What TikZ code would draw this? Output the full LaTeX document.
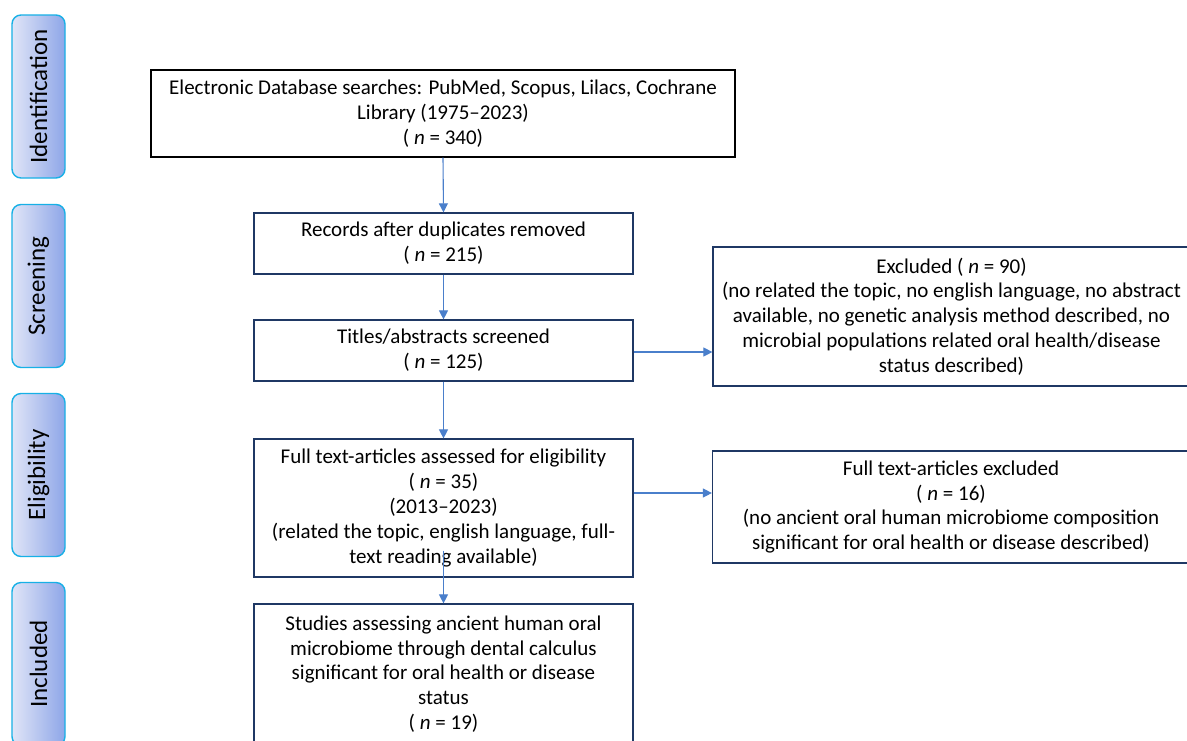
\documentclass[tikz,border=0pt]{standalone}
\usepackage{fontspec}
\setmainfont{Carlito}
\usetikzlibrary{arrows.meta}
\definecolor{navy}{HTML}{1F3864}
\definecolor{arr}{HTML}{4A7FCB}
\definecolor{phb}{HTML}{17B0E6}
\definecolor{phl}{HTML}{8EA6E8}
\definecolor{phr}{HTML}{E0E5F7}
\newcommand{\flowfont}{\fontsize{21}{24.8}\selectfont}
\begin{document}
\begin{tikzpicture}[x=1pt,y=-1pt,
  box/.style={draw=navy,line width=1.2pt,align=center,inner sep=0pt,font=\flowfont,fill=white},
  phase/.style={draw=phb,line width=1.4pt,rounded corners=9pt,
    left color=phr,right color=phl,minimum width=53pt,minimum height=163pt,
    inner sep=0pt},
  phasetext/.style={rotate=90,inner sep=0pt,font=\fontsize{25}{28}\selectfont},
  link/.style={draw=arr,line width=1.1pt,-{Triangle[length=9pt,width=9pt]}}]
\useasboundingbox (0,0) rectangle (1187,740);
\fill[white] (0,0) rectangle (1187,740);

% phase labels
\node[phase] (pid) at (38.5,96.5) {};
\node[phasetext] (tid) at (pid.center) {Identification};
\node[phase] (psc) at (38.5,286) {};
\node[phasetext] (tsc) at (psc.center) {Screening};
\node[phase] (pel) at (38.5,475) {};
\node[phasetext] (tel) at (pel.center) {Eligibility};
\node[phase] (pin) at (38.5,664) {};
\node[phasetext] (tin) at (pin.center) {Included};

% main column
\node[box,draw=black,minimum width=584pt,minimum height=87pt] (b1) at (443,113.5)
  {Electronic Database searches: PubMed, Scopus, Lilacs, Cochrane\\Library (1975–2023)\\( \textit{n} = 340)};
\node[box,minimum width=379pt,minimum height=61pt] (b2) at (443.5,243.5)
  {Records after duplicates removed\\( \textit{n} = 215)};
\node[box,minimum width=379pt,minimum height=61pt] (b3) at (443.5,350.5)
  {Titles/abstracts screened\\( \textit{n} = 125)};
\node[box,minimum width=379pt,minimum height=138pt] (b4) at (443.5,508)
  {Full text-articles assessed for eligibility\\( \textit{n} = 35)\\(2013–2023)\\(related the topic, english language, full-\\text reading available)};
\node[box,minimum width=379pt,minimum height=140pt] (b5) at (443.5,674)
  {Studies assessing ancient human oral\\microbiome through dental calculus\\significant for oral health or disease\\status\\( \textit{n} = 19)};

% side column
\node[box,minimum width=477pt,minimum height=139pt] (e1) at (951.5,316.5)
  {Excluded ( \textit{n} = 90)\\(no related the topic, no english language, no abstract\\available, no genetic analysis method described, no\\microbial populations related oral health/disease\\status described)};
\node[box,minimum width=477pt,minimum height=112pt] (e2) at (951,507)
  {Full text-articles excluded\\( \textit{n} = 16)\\(no ancient oral human microbiome composition\\significant for oral health or disease described)};

% connectors
\draw[link] (b1.south) -- (b2.north);
\draw[link] (b2.south) -- (b3.north);
\draw[link] (b3.south) -- (b4.north);
\draw[link] ([yshift=27pt]b4.south) -- (b5.north);
\draw[link] ([yshift=-1.5pt]b3.east) -- ([yshift=-1.5pt]b3.east -| e1.west);
\draw[link] ([yshift=15pt]b4.east) -- ([yshift=15pt]b4.east -| e2.west);
\end{tikzpicture}
\end{document}
